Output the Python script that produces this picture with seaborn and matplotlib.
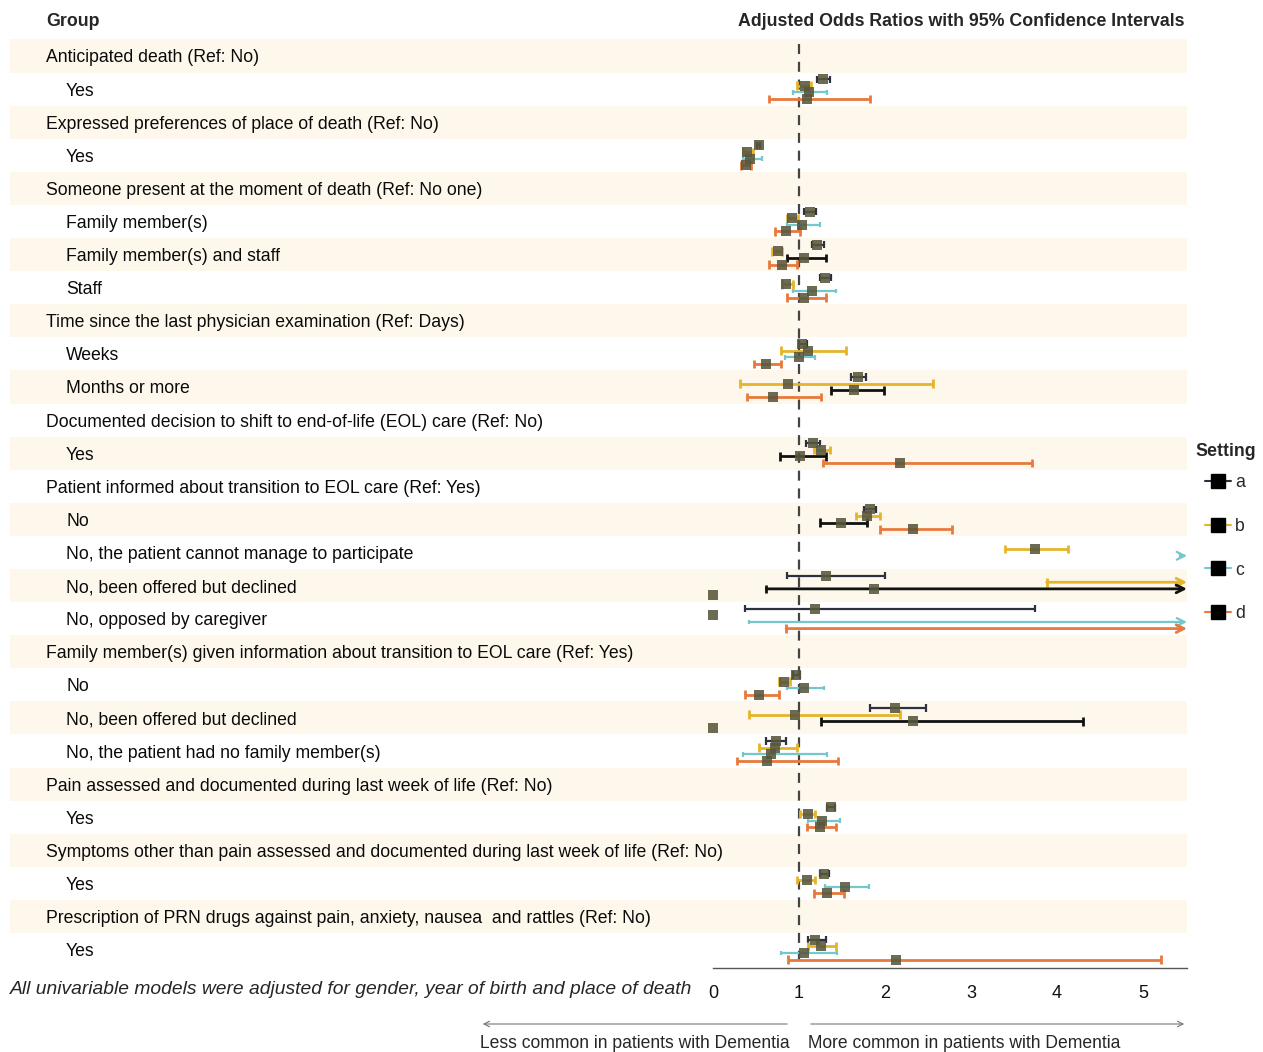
import numpy as np
import pandas as pd
import seaborn as sns
import matplotlib.pyplot as plt
from matplotlib import transforms
from matplotlib.patches import Rectangle, FancyArrowPatch
from matplotlib.lines import Line2D

nan = np.nan
inf = np.inf

# table rows (True = group header)
labels = [
    "Anticipated death (Ref: No)", "Yes",
    "Expressed preferences of place of death (Ref: No)", "Yes",
    "Someone present at the moment of death (Ref: No one)", "Family member(s)",
    "Family member(s) and staff", "Staff",
    "Time since the last physician examination (Ref: Days)", "Weeks", "Months or more",
    "Documented decision to shift to end-of-life (EOL) care (Ref: No)", "Yes",
    "Patient informed about transition to EOL care (Ref: Yes)", "No",
    "No, the patient cannot manage to participate", "No, been offered but declined",
    "No, opposed by caregiver",
    "Family member(s) given information about transition to EOL care (Ref: Yes)", "No",
    "No, been offered but declined", "No, the patient had no family member(s)",
    "Pain assessed and documented during last week of life (Ref: No)", "Yes",
    "Symptoms other than pain assessed and documented during last week of life (Ref: No)", "Yes",
    "Prescription of PRN drugs against pain, anxiety, nausea  and rattles (Ref: No)", "Yes",
]
is_header = [True, False, True, False, True, False, False, False, True, False, False,
             True, False, True, False, False, False, False, True, False, False, False,
             True, False, True, False, True, False]

# rows that carry estimates
sub_rows = [1, 3, 5, 6, 7, 9, 10, 12, 14, 15, 16, 17, 19, 20, 21, 23, 25, 27]

a_est = [1.28, 0.53, 1.13, 1.21, 1.30, 1.04, 1.69, 1.16, 1.82, nan, 1.31, 1.19, 0.97, 2.12, 0.73, 1.37, 1.29, 1.19]
a_lo = [1.21, 0.51, 1.06, 1.15, 1.24, 1.00, 1.60, 1.08, 1.76, nan, 0.86, 0.37, 0.93, 1.82, 0.62, 1.32, 1.24, 1.11]
a_hi = [1.36, 0.55, 1.20, 1.29, 1.37, 1.09, 1.78, 1.24, 1.90, nan, 2.00, 3.74, 1.01, 2.48, 0.85, 1.42, 1.35, 1.31]

b_est = [1.07, 0.40, 0.92, 0.75, 0.85, 1.11, 0.87, 1.26, 1.79, 3.74, nan, 0.00, 0.83, 0.95, 0.72, 1.10, 1.09, 1.26]
b_lo = [0.98, 0.35, 0.86, 0.69, 0.80, 0.79, 0.31, 1.17, 1.66, 3.40, 3.88, nan, 0.77, 0.42, 0.53, 1.01, 0.98, 1.11]
b_hi = [1.14, 0.47, 0.99, 0.80, 0.93, 1.55, 2.56, 1.36, 1.94, 4.13, inf, nan, 0.90, 2.17, 0.98, 1.19, 1.19, 1.43]

c_est = [1.12, 0.43, 1.03, 1.06, 1.15, 1.00, 1.64, 1.01, 1.49, nan, 1.87, nan, 1.06, 2.32, 0.68, 1.27, 1.53, 1.06]
c_lo = [0.93, 0.35, 0.86, 0.86, 0.93, 0.84, 1.37, 0.78, 1.24, 5.43, 0.62, 0.42, 0.86, 1.26, 0.35, 1.10, 1.30, 0.79]
c_hi = [1.33, 0.57, 1.24, 1.31, 1.43, 1.19, 1.99, 1.31, 1.79, inf, inf, inf, 1.29, 4.30, 1.33, 1.48, 1.81, 1.44]

d_est = [1.09, 0.38, 0.85, 0.80, 1.06, 0.62, 0.70, 2.17, 2.32, nan, 0.00, nan, 0.54, 0.00, 0.63, 1.24, 1.33, 2.13]
d_lo = [0.65, 0.33, 0.72, 0.65, 0.86, 0.48, 0.39, 1.28, 1.94, nan, nan, 0.85, 0.37, nan, 0.28, 1.09, 1.17, 0.87]
d_hi = [1.83, 0.44, 1.01, 0.98, 1.31, 0.79, 1.25, 3.71, 2.78, nan, nan, inf, 0.77, nan, 1.45, 1.43, 1.52, 5.21]

settings = ["a", "b", "c", "d"]

# styling
W, H = 1263, 1052
offsets = {"a": -0.3, "b": -0.1, "c": 0.1, "d": 0.3}
colors = {"a": "#2e3040", "b": "#E4B52A", "c": "#74C7CD", "d": "#E8793C"}
widths = {"a": 1.6, "b": 2.0, "c": 1.6, "d": 2.0}
caps = {"a": 0.11, "b": 0.13, "c": 0.07, "d": 0.13}
c_black_rows = [6, 10, 12, 14, 16, 20]
XMAX = 474 / 86


def fx(px):
    return px / W


def fy(py):
    return 1 - py / H


def main():
    sns.set_style("white")
    plt.rcParams["font.family"] = ["Liberation Sans", "DejaVu Sans"]
    fig = plt.figure(figsize=(W / 100, H / 100), dpi=100)
    ax = fig.add_axes([fx(713), fy(967.5), fx(1187) - fx(713), (967.5 - 39.45) / H])
    ax.patch.set_alpha(0)

    frames = []
    for s, est, lo, hi in [("a", a_est, a_lo, a_hi), ("b", b_est, b_lo, b_hi),
                           ("c", c_est, c_lo, c_hi), ("d", d_est, d_lo, d_hi)]:
        frames.append(pd.DataFrame({"row": sub_rows, "setting": s,
                                    "est": est, "lo": lo, "hi": hi}))
    df = pd.concat(frames, ignore_index=True)
    df["y"] = df["row"] + df["setting"].map(offsets)

    # striped background, spanning table and plot
    blend = transforms.blended_transform_factory(fig.transFigure, ax.transData)
    for i in range(0, len(labels), 2):
        ax.add_patch(Rectangle((fx(10), i - 0.5), fx(1187) - fx(10), 1.0,
                               transform=blend, facecolor="#FEF8EC",
                               edgecolor="none", zorder=0, clip_on=False))

    # reference line
    ax.plot([1, 1], [-0.35, 27.54], color="#444444", lw=1.6,
            linestyle=(0, (4.5, 3.5)), zorder=2)

    # confidence intervals
    for _, r in df.iterrows():
        if np.isnan(r["lo"]):
            continue
        s = r["setting"]
        col = colors[s]
        lw = widths[s]
        cap = caps[s]
        if s == "c" and r["row"] in c_black_rows:
            col, lw, cap = "#111111", 2.0, 0.13
        y = r["y"]
        ax.vlines(r["lo"], y - cap, y + cap, color=col, lw=lw, zorder=3)
        if np.isinf(r["hi"]):
            ax.annotate("", xy=(XMAX, y), xytext=(r["lo"], y),
                        arrowprops=dict(arrowstyle="->", color=col, lw=lw,
                                        mutation_scale=14, shrinkA=0, shrinkB=0),
                        annotation_clip=False, zorder=3)
        else:
            ax.hlines(y, r["lo"], r["hi"], color=col, lw=lw, zorder=3)
            ax.vlines(r["hi"], y - cap, y + cap, color=col, lw=lw, zorder=3)

    # point estimates
    sns.scatterplot(data=df.dropna(subset=["est"]), x="est", y="y", marker="s",
                    s=58, color="#58563c", alpha=0.88, linewidth=0,
                    legend=False, zorder=4, ax=ax)
    for coll in ax.collections:
        coll.set_clip_on(False)

    ax.set_xlim(0, XMAX)
    ax.set_ylim(27.54, -0.5)
    ax.set_xlabel("")
    ax.set_ylabel("")
    ax.set_yticks([])
    for side in ["left", "right", "top"]:
        ax.spines[side].set_visible(False)
    ax.spines["bottom"].set_color("#555555")
    ax.spines["bottom"].set_linewidth(1.0)
    ax.set_xticks([0, 1, 2, 3, 4, 5])
    ax.tick_params(axis="x", direction="out", length=7.5, width=1.0,
                   color="#555555", pad=5)
    for t in ax.get_xticklabels():
        t.set_fontsize(13)
        t.set_color("#111111")

    # table text
    for i, (lab, hd) in enumerate(zip(labels, is_header)):
        ax.text(fx(46) if hd else fx(66), i + 0.06, lab, transform=blend,
                ha="left", va="center", fontsize=12.7, color="#0a0a0a")

    fig.text(fx(46), fy(22), "Group", fontsize=12.8, fontweight="bold",
             ha="left", va="center")
    fig.text(fx(1185), fy(22), "Adjusted Odds Ratios with 95% Confidence Intervals",
             fontsize=12.75, fontweight="bold", ha="right", va="center")
    fig.text(fx(10), fy(989), "All univariable models were adjusted for gender, "
             "year of birth and place of death", fontsize=13.85, style="italic",
             ha="left", va="center")

    # direction arrows
    fig.patches.append(FancyArrowPatch(
        (fx(790), fy(1024)), (fx(480), fy(1024)), transform=fig.transFigure,
        arrowstyle="->", mutation_scale=10, color="#777777", lw=0.8))
    fig.patches.append(FancyArrowPatch(
        (fx(808), fy(1024)), (fx(1187), fy(1024)), transform=fig.transFigure,
        arrowstyle="->", mutation_scale=10, color="#777777", lw=0.8))
    fig.text(fx(790), fy(1044), "Less common in patients with Dementia",
             fontsize=12.65, ha="right", va="center")
    fig.text(fx(808), fy(1044), "More common in patients with Dementia",
             fontsize=12.65, ha="left", va="center")

    # legend
    fig.text(fx(1226), fy(452), "Setting", fontsize=12.8, fontweight="bold",
             ha="center", va="center")
    handles = [Line2D([], [], color=colors[s], lw=1.5, marker="s", markersize=10,
                      markerfacecolor="black", markeredgecolor="black")
               for s in settings]
    fig.legend(handles, settings, loc="upper left",
               bbox_to_anchor=(fx(1205), fy(474)), frameon=False,
               fontsize=12.7, handlelength=1.5, handletextpad=0.2,
               labelspacing=1.52, borderpad=0, borderaxespad=0)

    fig.savefig("out.png", dpi=100)


if __name__ == "__main__":
    main()
